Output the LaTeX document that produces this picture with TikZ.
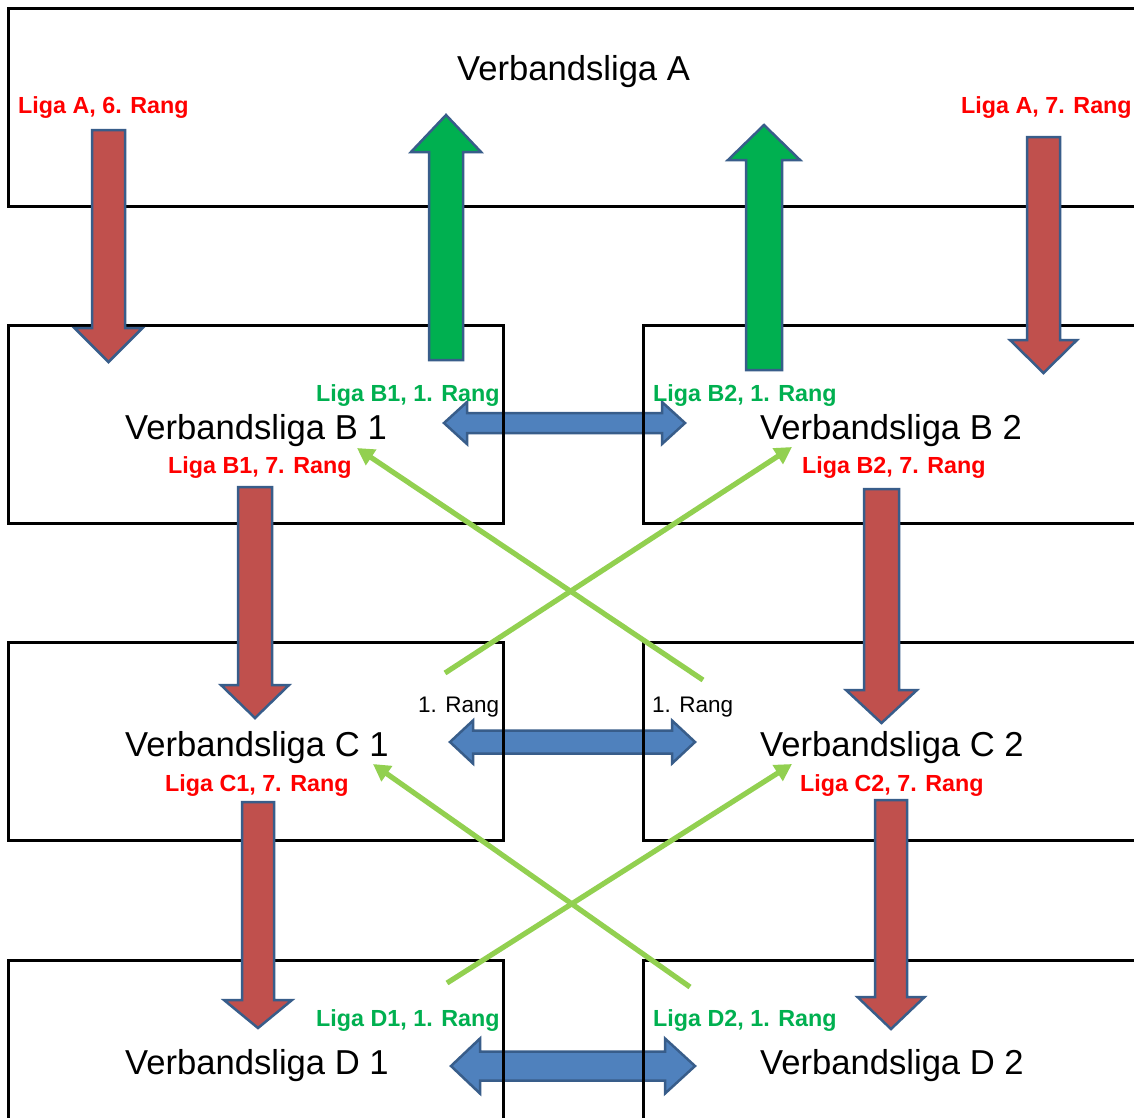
\documentclass[tikz,border=0pt]{standalone}
\usepackage{fontspec}
\setmainfont{Liberation Sans}
\usetikzlibrary{arrows.meta}
\definecolor{redfill}{HTML}{C0504D}
\definecolor{greenfill}{HTML}{00B050}
\definecolor{bluefill}{HTML}{4F81BD}
\definecolor{arrowedge}{HTML}{385D8A}
\definecolor{lightgreen}{HTML}{92D050}
\definecolor{labelred}{HTML}{FF0000}
\definecolor{labelgreen}{HTML}{00B050}
\tikzset{
  box/.style={draw=black, line width=3pt, rectangle, inner sep=0pt, outer sep=0pt, anchor=north west},
  blockarrow/.style={draw=arrowedge, line width=2.5pt, line join=miter},
  bigtext/.style={inner sep=0pt, anchor=base west, text=black, font=\fontsize{34.6}{40}\selectfont},
  redlabel/.style={inner sep=0pt, anchor=base west, text=labelred, font=\bfseries\fontsize{23.3}{28}\selectfont},
  greenlabel/.style={inner sep=0pt, anchor=base west, text=labelgreen, font=\bfseries\fontsize{23.3}{28}\selectfont},
  ranklabel/.style={inner sep=0pt, anchor=base west, text=black, font=\fontsize{22.5}{27}\selectfont},
  crossline/.style={draw=lightgreen, line width=5.2pt, -{Triangle[length=17pt,width=18pt]}}
}
% vertical block arrow: #1 fill, #2 cx, #3 y start, #4 y head base, #5 y tip, #6 half shaft, #7 half head
\newcommand\vblockarrow[7]{%
  \draw[blockarrow, fill=#1] (#2-#6,#3) -- (#2+#6,#3) -- (#2+#6,#4) -- (#2+#7,#4) -- (#2,#5) -- (#2-#7,#4) -- (#2-#6,#4) -- cycle;}
% horizontal double block arrow: #1 cy, #2 left tip, #3 left head base, #4 right head base, #5 right tip, #6 half shaft, #7 half head
\newcommand\hdoublearrow[7]{%
  \draw[blockarrow, fill=bluefill] (#2,#1) -- (#3,#1-#7) -- (#3,#1-#6) -- (#4,#1-#6) -- (#4,#1-#7) -- (#5,#1) -- (#4,#1+#7) -- (#4,#1+#6) -- (#3,#1+#6) -- (#3,#1+#7) -- cycle;}
\begin{document}
\begin{tikzpicture}[x=1pt,y=-1pt]
\useasboundingbox (0,0) rectangle (1134,1117);
\clip (0,0) rectangle (1134,1117);
\fill[white] (0,0) rectangle (1134,1117);

% blue exchange arrows (behind the boxes)
\hdoublearrow{423}{444}{467}{662}{685}{10}{21}
\hdoublearrow{742}{450}{473}{672}{695}{11.5}{21.5}
\hdoublearrow{1066}{451}{480}{665}{695}{14.5}{27.5}

% boxes
\node[box, minimum width=1150pt, minimum height=198pt] (A) at (8,8) {};
\node[box, minimum width=495pt, minimum height=198pt] (B1) at (8,325) {};
\node[box, minimum width=520pt, minimum height=198pt] (B2) at (643,325) {};
\node[box, minimum width=495pt, minimum height=198pt] (C1) at (8,642) {};
\node[box, minimum width=520pt, minimum height=198pt] (C2) at (643,642) {};
\node[box, minimum width=495pt, minimum height=198pt] (D1) at (8,960) {};
\node[box, minimum width=520pt, minimum height=198pt] (D2) at (643,960) {};

% relegation arrows (red)
\vblockarrow{redfill}{108.5}{130}{328}{362}{16.5}{34}
\vblockarrow{redfill}{1043.5}{137}{340}{373}{16.5}{33.5}
\vblockarrow{redfill}{255}{487}{685}{718}{17}{34}
\vblockarrow{redfill}{881.5}{489}{690}{723}{17.5}{35.5}
\vblockarrow{redfill}{258}{802}{1000}{1028}{16}{34}
\vblockarrow{redfill}{891}{800}{997}{1029}{16}{33.5}

% promotion arrows (green)
\vblockarrow{greenfill}{446}{360}{152}{115}{17}{35}
\vblockarrow{greenfill}{764}{370}{160}{125}{18}{36}

% cross promotion lines
\coordinate (c1r) at (445,673);
\coordinate (c2r) at (703,680);
\coordinate (b1t) at (357,448);
\coordinate (b2t) at (792,447);
\coordinate (d1r) at (447,983);
\coordinate (d2r) at (690,987);
\coordinate (c1t) at (373,764);
\coordinate (c2t) at (792,764);
\draw[crossline] (c2r) -- (b1t);
\draw[crossline] (c1r) -- (b2t);
\draw[crossline] (d2r) -- (c1t);
\draw[crossline] (d1r) -- (c2t);

% texts
\node[bigtext] (tA) at (457,80) {Verbandsliga A};
\node[bigtext] (tB1) at (125,439) {Verbandsliga B 1};
\node[bigtext] (tB2) at (760,439) {Verbandsliga B 2};
\node[bigtext] (tC1) at (125,756) {Verbandsliga C 1};
\node[bigtext] (tC2) at (760,756) {Verbandsliga C 2};
\node[bigtext] (tD1) at (125,1074) {Verbandsliga D 1};
\node[bigtext] (tD2) at (760,1074) {Verbandsliga D 2};

\node[redlabel] (lA6) at (18,113) {Liga A, 6. Rang};
\node[redlabel] (lA7) at (961,113) {Liga A, 7. Rang};
\node[greenlabel] (lB11) at (316,401) {Liga B1, 1. Rang};
\node[greenlabel] (lB21) at (653,401) {Liga B2, 1. Rang};
\node[redlabel] (lB17) at (168,473) {Liga B1, 7. Rang};
\node[redlabel] (lB27) at (802,473) {Liga B2, 7. Rang};
\node[ranklabel] (r1) at (418,712) {1. Rang};
\node[ranklabel] (r2) at (652,712) {1. Rang};
\node[redlabel] (lC17) at (165,791) {Liga C1, 7. Rang};
\node[redlabel] (lC27) at (800,791) {Liga C2, 7. Rang};
\node[greenlabel] (lD11) at (316,1026) {Liga D1, 1. Rang};
\node[greenlabel] (lD21) at (653,1026) {Liga D2, 1. Rang};
\end{tikzpicture}
\end{document}
